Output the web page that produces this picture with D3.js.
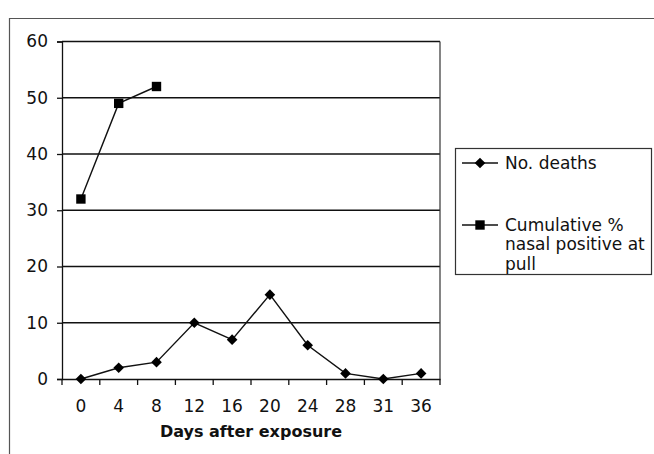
<!DOCTYPE html>
<html>
<head>
<meta charset="utf-8">
<script src="https://cdn.jsdelivr.net/npm/d3@7"></script>
<style>
  body { margin: 0; background: #fff; }
  text { font-family: "DejaVu Sans", Verdana, sans-serif; fill: #111; }
</style>
</head>
<body>
<svg id="chart"></svg>
<script>
// chart values
const days = ["0", "4", "8", "12", "16", "20", "24", "28", "31", "36"];
const deaths = [0, 2, 3, 10, 7, 15, 6, 1, 0, 1];
const nasalPositive = [32, 49, 52];
const yTicks = [0, 10, 20, 30, 40, 50, 60];

const width = 654, height = 454;
const margin = { top: 41.5, right: 214, bottom: 75, left: 62 };

const svg = d3.select("#chart")
    .attr("width", width)
    .attr("height", height);

// outer chart frame (only top and left visible in crop)
svg.append("path")
    .attr("d", `M9.5,${height} V18.5 H${width}`)
    .attr("fill", "none")
    .attr("stroke", "#555")
    .attr("stroke-width", 1.2);

const x = d3.scaleBand()
    .domain(days)
    .range([margin.left, width - margin.right]);

const y = d3.scaleLinear()
    .domain([0, 60])
    .range([height - margin.bottom, margin.top]);

// gridlines
svg.append("g")
    .selectAll("line")
    .data(yTicks.filter(d => d > 0))
    .enter()
    .append("line")
    .attr("x1", margin.left)
    .attr("x2", width - margin.right)
    .attr("y1", d => y(d))
    .attr("y2", d => y(d))
    .attr("stroke", "#111")
    .attr("stroke-width", 1.6);

// plot right border
svg.append("line")
    .attr("x1", width - margin.right)
    .attr("x2", width - margin.right)
    .attr("y1", y(60))
    .attr("y2", y(0))
    .attr("stroke", "#333")
    .attr("stroke-width", 1.2);

// y axis
const yAxis = svg.append("g")
    .attr("transform", `translate(${margin.left},0)`)
    .call(d3.axisLeft(y).tickValues(yTicks).tickSize(5).tickPadding(9));
yAxis.selectAll("text").style("font-size", "17px");
yAxis.selectAll("line, path").attr("stroke", "#111").attr("stroke-width", 1.3);

// x axis with ticks between categories
const xAxis = svg.append("g")
    .attr("transform", `translate(0,${y(0)})`)
    .call(d3.axisBottom(x).tickSize(0).tickPadding(21));
xAxis.selectAll("text").style("font-size", "17px");
xAxis.select(".domain").attr("stroke", "#111").attr("stroke-width", 1.6);

svg.append("g")
    .selectAll("line")
    .data(days.concat(["end"]))
    .enter()
    .append("line")
    .attr("x1", d => d === "end" ? width - margin.right : x(d))
    .attr("x2", d => d === "end" ? width - margin.right : x(d))
    .attr("y1", y(0))
    .attr("y2", y(0) + 6)
    .attr("stroke", "#111")
    .attr("stroke-width", 1.3);

svg.append("text")
    .attr("x", (margin.left + width - margin.right) / 2)
    .attr("y", 437)
    .attr("text-anchor", "middle")
    .style("font-size", "16px")
    .style("font-weight", "bold")
    .text("Days after exposure");

const cx = d => x(d) + x.bandwidth() / 2;
const line = d3.line()
    .x((d, i) => cx(days[i]))
    .y(d => y(d));

// series lines
[deaths, nasalPositive].forEach(series => {
    svg.append("path")
        .datum(series)
        .attr("d", line)
        .attr("fill", "none")
        .attr("stroke", "#111")
        .attr("stroke-width", 1.4);
});

const diamond = d3.symbol().type(d3.symbolDiamond2).size(72);
const square = d3.symbol().type(d3.symbolSquare).size(88);

svg.selectAll(".death-pt")
    .data(deaths)
    .enter()
    .append("path")
    .attr("class", "death-pt")
    .attr("transform", (d, i) => `translate(${cx(days[i])},${y(d)})`)
    .attr("d", diamond)
    .attr("fill", "#000");

svg.selectAll(".nasal-pt")
    .data(nasalPositive)
    .enter()
    .append("path")
    .attr("class", "nasal-pt")
    .attr("transform", (d, i) => `translate(${cx(days[i])},${y(d)})`)
    .attr("d", square)
    .attr("fill", "#000");

// legend
const legend = svg.append("g");
legend.append("rect")
    .attr("x", 455.5)
    .attr("y", 148.5)
    .attr("width", 196)
    .attr("height", 126)
    .attr("fill", "#fff")
    .attr("stroke", "#333")
    .attr("stroke-width", 1.2);

const legendItems = [
    { lines: ["No. deaths"], y: 163, sym: diamond },
    { lines: ["Cumulative %", "nasal positive at", "pull"], y: 225, sym: square }
];
legendItems.forEach(item => {
    legend.append("line")
        .attr("x1", 462).attr("x2", 498)
        .attr("y1", item.y).attr("y2", item.y)
        .attr("stroke", "#111").attr("stroke-width", 1.4);
    legend.append("path")
        .attr("transform", `translate(480,${item.y})`)
        .attr("d", item.sym)
        .attr("fill", "#000");
    item.lines.forEach((t, k) => {
        legend.append("text")
            .attr("x", 505)
            .attr("y", item.y + k * 19.5)
            .attr("dy", "0.35em")
            .style("font-size", "17px")
            .text(t);
    });
});
</script>
</body>
</html>
